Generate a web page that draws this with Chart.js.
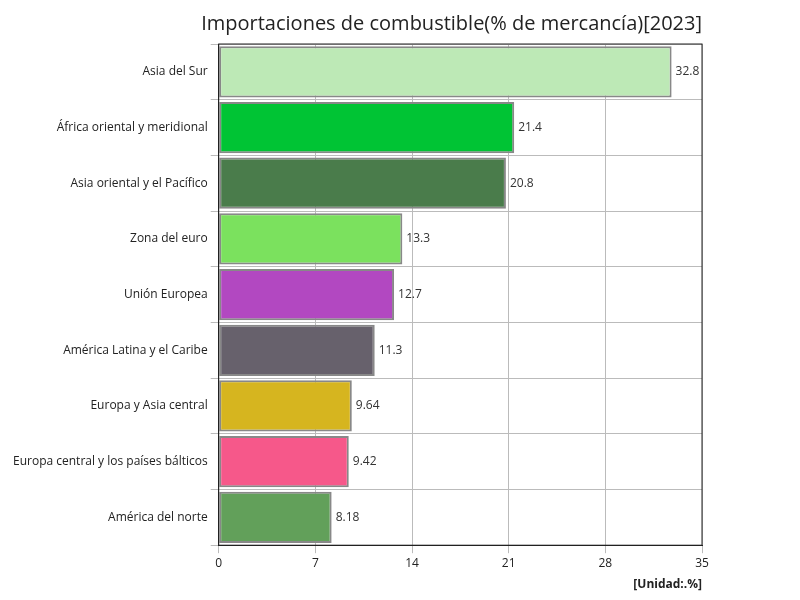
<!DOCTYPE html>
<html lang="es">
<head>
  <meta charset="UTF-8" />
  <title>Importaciones de combustible</title>
  <style>
    body { margin: 0; background: #fff; }
    #wrap { width: 800px; height: 600px; position: relative; }
  </style>
</head>
<body>
  <div id="wrap"><canvas id="chart" width="800" height="600"></canvas></div>
  <script src="https://cdn.jsdelivr.net/npm/chart.js"></script>
  <script>
    const regions = [
      "Asia del Sur",
      "África oriental y meridional",
      "Asia oriental y el Pacífico",
      "Zona del euro",
      "Unión Europea",
      "América Latina y el Caribe",
      "Europa y Asia central",
      "Europa central y los países bálticos",
      "América del norte"
    ];
    const values = [32.8, 21.4, 20.8, 13.3, 12.7, 11.3, 9.64, 9.42, 8.18];
    const barColors = ["#bde9b6", "#00c434", "#4a7c4b", "#7be15e", "#b248c1", "#67616c", "#d6b51f", "#f6588a", "#62a05a"];

    // value labels to the right of each bar
    const valueLabels = {
      id: "valueLabels",
      afterDatasetsDraw(chart) {
        const ctx = chart.ctx;
        const meta = chart.getDatasetMeta(0);
        ctx.save();
        ctx.font = "12px 'Open Sans', sans-serif";
        ctx.fillStyle = "#333";
        ctx.textBaseline = "middle";
        meta.data.forEach((bar, i) => {
          ctx.fillText(String(values[i]), bar.x + 4, bar.y);
        });
        ctx.restore();
      }
    };

    new Chart(document.getElementById("chart"), {
      type: "bar",
      data: {
        labels: regions,
        datasets: [{
          data: values,
          backgroundColor: barColors,
          borderColor: "#888",
          borderWidth: 2,
          borderSkipped: false,
          barPercentage: 0.92,
          categoryPercentage: 1
        }]
      },
      options: {
        indexAxis: "y",
        responsive: false,
        animation: false,
        layout: { padding: { left: 10, right: 98, top: 10, bottom: 4 } },
        plugins: {
          legend: { display: false },
          tooltip: { enabled: false },
          title: {
            display: true,
            text: "Importaciones de combustible(% de mercancía)[2023]",
            align: "end",
            color: "#222",
            font: { family: "'Open Sans', sans-serif", size: 20, weight: "normal" },
            padding: { top: 2, bottom: 8 }
          }
        },
        scales: {
          x: {
            min: 0, max: 35,
            ticks: { stepSize: 7, color: "#222", font: { family: "'Open Sans', sans-serif", size: 12 } },
            grid: { color: "#bbb" },
            border: { color: "#222" },
            title: {
              display: true, text: "[Unidad:.%]", align: "end", color: "#222",
              font: { family: "'Open Sans', sans-serif", size: 12, weight: "bold" }
            }
          },
          y: {
            ticks: { color: "#222", font: { family: "'Open Sans', sans-serif", size: 12 } },
            grid: { color: "#bbb", offset: true },
            border: { color: "#222" }
          }
        }
      },
      plugins: [valueLabels, {
        id: "frame",
        afterDraw(chart) {
          const a = chart.chartArea, ctx = chart.ctx;
          ctx.save();
          ctx.strokeStyle = "#222";
          ctx.lineWidth = 1;
          ctx.strokeRect(a.left, a.top, a.right - a.left, a.bottom - a.top);
          ctx.restore();
        }
      }]
    });
  </script>
</body>
</html>
